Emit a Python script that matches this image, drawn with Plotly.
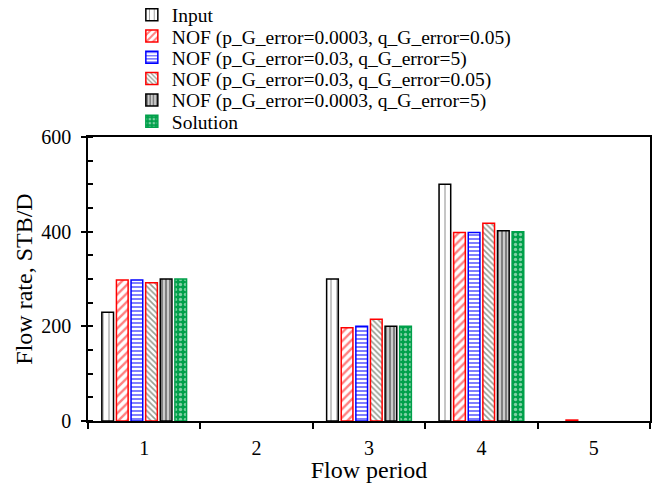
import plotly.graph_objects as go

periods = ["1", "2", "3", "4", "5"]
names = ["Input",
         "NOF (p_G_error=0.0003, q_G_error=0.05)",
         "NOF (p_G_error=0.03, q_G_error=5)",
         "NOF (p_G_error=0.03, q_G_error=0.05)",
         "NOF (p_G_error=0.0003, q_G_error=5)",
         "Solution"]
input_vals = [230, 0, 300, 500, 0]
nof1_vals = [298, 0, 197, 398, 2]
nof2_vals = [298, 0, 200, 398, 0]
nof3_vals = [292, 0, 215, 418, 0]
nof4_vals = [300, 0, 200, 402, 0]
solution_vals = [300, 0, 200, 400, 0]

series = [input_vals, nof1_vals, nof2_vals, nof3_vals, nof4_vals, solution_vals]
styles = [
    dict(line="black", shape="|", fg="black", bg="white", size=6, sol=0.15),
    dict(line="red", shape="/", fg="red", bg="white", size=6, sol=0.4),
    dict(line="blue", shape="-", fg="blue", bg="white", size=4, sol=0.5),
    dict(line="red", shape="\\", fg="#2f3a22", bg="white", size=4, sol=0.4),
    dict(line="black", shape="|", fg="black", bg="white", size=4, sol=0.7),
    dict(line="#00a04a", shape=".", fg="white", bg="#00a04a", size=5, sol=0.35),
]

font_family = "Liberation Serif, DejaVu Serif, serif"
legend_keys = ["legend", "legend2", "legend3", "legend4", "legend5", "legend6"]

fig = go.Figure()
for n, v, s, lk in zip(names, series, styles, legend_keys):
    fig.add_trace(go.Bar(
        x=periods, y=[val if val else None for val in v], name=n, legend=lk,
        marker=dict(color=s["bg"], line=dict(color=s["line"], width=1.5),
                    pattern=dict(shape=s["shape"], fgcolor=s["fg"], bgcolor=s["bg"],
                                 size=s["size"], solidity=s["sol"], fillmode="overlay")),
    ))

# separate legend boxes so the rows can sit closer together
row_top_px = 15
row_step_px = 21.3
plot_top, plot_bottom = 137, 421
legend_layout = {}
for i, lk in enumerate(legend_keys):
    ypx = row_top_px + row_step_px * i
    legend_layout[lk] = dict(x=0.078, y=(plot_bottom - ypx) / (plot_bottom - plot_top),
                             xanchor="left", yanchor="middle",
                             bgcolor="rgba(0,0,0,0)", font=dict(size=19.5),
                             itemwidth=30)

fig.update_layout(
    width=668, height=483,
    margin=dict(l=88, r=18, t=137, b=62, autoexpand=False),
    paper_bgcolor="white", plot_bgcolor="white",
    barmode="group", bargap=0.22, bargroupgap=0.2,
    font=dict(family=font_family, size=20, color="black"),
    showlegend=True,
    xaxis=dict(title=dict(text="Flow period", standoff=0), type="category",
               showline=True, linecolor="black", linewidth=1.5, mirror=True,
               ticks="outside", tickson="boundaries", ticklen=6, tickcolor="black",
               tickwidth=1.5, showgrid=False, ticklabelstandoff=8),
    xaxis2=dict(overlaying="x", anchor="y", range=[-0.5, 4.5],
                tickvals=[-0.5, 0.5, 1.5, 2.5, 3.5, 4.5], ticks="inside",
                ticklen=6, tickwidth=1.5, tickcolor="black",
                showticklabels=False, showgrid=False, zeroline=False, side="bottom"),
    yaxis=dict(title=dict(text="Flow rate, STB/D", standoff=2), range=[0, 600],
               tickvals=[0, 200, 400, 600], showline=True, linecolor="black",
               linewidth=1.5, mirror=True, ticks="outside", ticklen=5,
               tickcolor="black", tickwidth=1.5, showgrid=False, zeroline=False,
               ticklabelstandoff=6,
               minor=dict(dtick=50, ticks="inside", ticklen=5, tickcolor="black",
                          showgrid=False)),
    **legend_layout,
)

fig.write_html("out.html")
